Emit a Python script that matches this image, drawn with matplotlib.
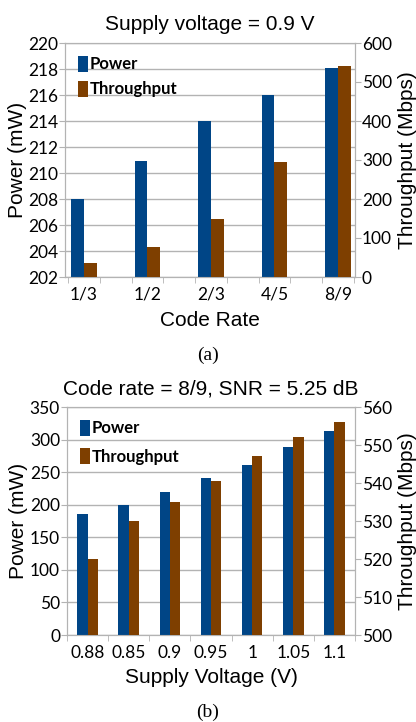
import numpy as np
import matplotlib.pyplot as plt
from matplotlib.ticker import MultipleLocator, FixedLocator, NullFormatter

# chart (a): fixed supply voltage
code_rates = ['1/3', '1/2', '2/3', '4/5', '8/9']
power_a = [208.0, 210.9, 214.0, 216.0, 218.1]
throughput_a = [37, 77, 150, 294, 540]

# chart (b): code rate 8/9
voltages = ['0.88', '0.85', '0.9', '0.95', '1', '1.05', '1.1']
power_b = [185, 200, 219, 241, 261, 288, 313]
throughput_b = [520, 530, 535, 540.5, 547, 552, 556]

BLUE = '#004586'
BROWN = '#7e3f00'
GRID = '#b3b3b3'
TICK_FONT = 'Lato'
LABEL_FONT = 'Liberation Sans'


def draw(fig, rect, cats, power, thr, width, xlim, boundaries,
         ylim1, ystep1, ylim2, ystep2, title, xlabel, xpad, lspace):
    ax = fig.add_axes(rect)
    ax2 = ax.twinx()
    x = np.arange(len(cats))

    ax.bar(x - width / 2, power, width, color=BLUE, label='Power', zorder=3)
    ax2.bar(x + width / 2, thr, width, color=BROWN, label='Throughput', zorder=3)

    ax.set_xlim(*xlim)
    ax.set_ylim(*ylim1)
    ax2.set_ylim(*ylim2)
    ax.yaxis.set_major_locator(MultipleLocator(ystep1))
    ax2.yaxis.set_major_locator(MultipleLocator(ystep2))

    # category labels without ticks, tick marks on the boundaries
    ax.set_xticks(x)
    ax.set_xticklabels(cats)
    ax.tick_params(axis='x', which='major', length=0, pad=7)
    ax.xaxis.set_minor_locator(FixedLocator(boundaries))
    ax.xaxis.set_minor_formatter(NullFormatter())
    ax.tick_params(axis='x', which='minor', length=4, color=GRID)

    ax.set_axisbelow(True)
    ax.grid(axis='y', color=GRID, linewidth=1)

    for a in (ax, ax2):
        for s in a.spines.values():
            s.set_color(GRID)
        a.tick_params(axis='y', length=4, color=GRID, pad=1, labelsize=12.5)
        for lab in a.get_yticklabels() + a.get_xticklabels():
            lab.set_fontfamily(TICK_FONT)
    ax.tick_params(axis='x', labelsize=12.5)

    ax.set_title(title, fontsize=15, family=LABEL_FONT, pad=9)
    ax.set_xlabel(xlabel, fontsize=15, family=LABEL_FONT, labelpad=xpad)
    ax.set_ylabel('Power (mW)', fontsize=15, family=LABEL_FONT, labelpad=1)
    ax2.set_ylabel('Throughput (Mbps)', fontsize=15, family=LABEL_FONT,
                   rotation=90, labelpad=4)

    h1, l1 = ax.get_legend_handles_labels()
    h2, l2 = ax2.get_legend_handles_labels()
    ax2.legend(h1 + h2, l1 + l2, loc='upper left', frameon=False,
               handlelength=0.65, handleheight=1.1, handletextpad=0.1,
               labelspacing=lspace, borderaxespad=0.45, borderpad=0.3,
               prop={'family': TICK_FONT, 'weight': 'bold', 'size': 12})
    return ax, ax2


fig = plt.figure(figsize=(4.16, 7.22), dpi=100)

draw(fig, [65 / 416, 1 - 277 / 722, 290 / 416, 234 / 722],
     code_rates, power_a, throughput_a, 0.2, (-0.3, 4.27),
     np.arange(-0.25, 4.3, 0.5), (202, 220), 2, (0, 600), 100,
     'Supply voltage = 0.9 V', 'Code Rate', 6, 0.5)

draw(fig, [67 / 416, 1 - 635 / 722, 288 / 416, 228 / 722],
     voltages, power_b, throughput_b, 0.25, (-0.5, 6.5),
     np.arange(-0.5, 6.6, 1.0), (0, 350), 50, (500, 560), 10,
     'Code rate = 8/9, SNR = 5.25 dB', 'Supply Voltage (V)', 5, 0.7)

fig.text(208 / 416, 1 - 355 / 722, '(a)', ha='center', va='center',
         fontsize=14, family='Liberation Serif')
fig.text(208 / 416, 1 - 712 / 722, '(b)', ha='center', va='center',
         fontsize=14, family='Liberation Serif')

fig.savefig('out.png', dpi=100)
